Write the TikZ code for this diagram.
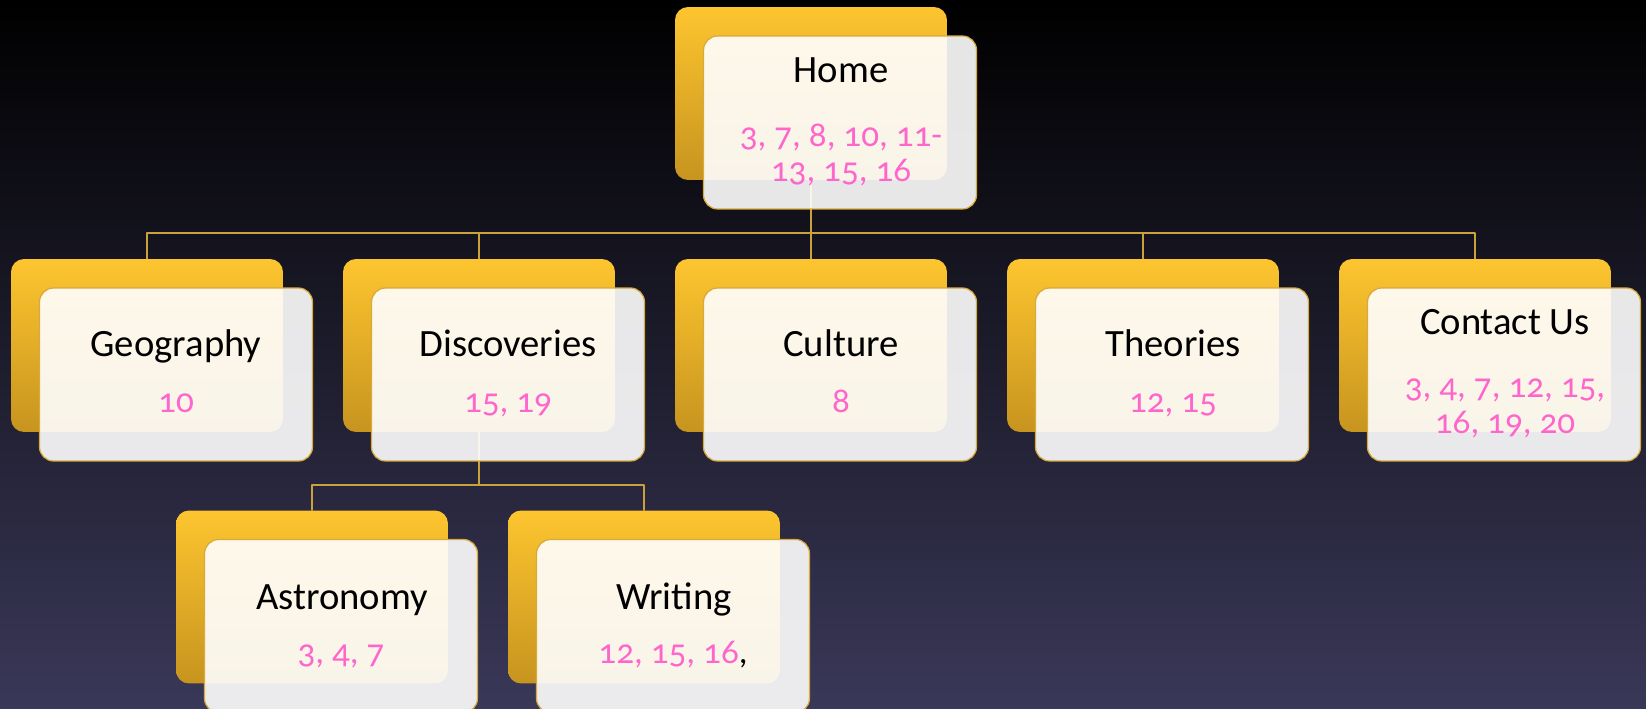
\documentclass[tikz,border=0pt]{standalone}
\usepackage{fontspec}
\setmainfont{Carlito}
\newfontfamily\numfont[Numbers=OldStyle]{Carlito}
\usetikzlibrary{positioning,calc}
\definecolor{bgtop}{HTML}{000000}
\definecolor{bgbot}{HTML}{3A3858}
\definecolor{goldtop}{HTML}{FDC52F}
\definecolor{goldbot}{HTML}{C7941F}
\definecolor{rim}{HTML}{D8A93B}
\definecolor{wire}{HTML}{C9A23C}
\definecolor{pagecol}{HTML}{FF66CC}

\begin{document}
\begin{tikzpicture}[
  x=0.02cm, y=-0.02cm, line cap=round, line join=round,
  tab/.style={rounded corners=0.26cm, top color=goldtop, bottom color=goldbot,
              minimum width=5.44cm, minimum height=3.46cm, inner sep=0pt},
  card/.style={rounded corners=0.28cm, draw=rim, line width=0.7pt, fill=white,
               fill opacity=0.9, minimum width=5.46cm, minimum height=3.46cm,
               inner sep=0pt},
  ttl/.style={anchor=base, inner sep=0pt, text=black,
              font=\fontsize{22}{26}\selectfont},
  pg/.style={anchor=base, inner sep=0pt, text=pagecol, align=center,
             font=\numfont\fontsize{20}{20}\selectfont},
  link/.style={wire, line width=0.85pt}]

% ================================================================ backdrop
\fill[top color=bgtop, bottom color=bgbot] (0,0) rectangle (1646,709);
\useasboundingbox (0,0) rectangle (1646,709);
\clip (0,0) rectangle (1646,709);

% ================================================================ yellow tabs
\node[tab] (home-b)  at (811,93.5) {};
\node[tab] (geo-b)   at (147,345.5) {};
\node[tab] (disc-b)  at (479,345.5) {};
\node[tab] (cult-b)  at (811,345.5) {};
\node[tab] (theo-b)  at (1143,345.5) {};
\node[tab] (cont-b)  at (1475,345.5) {};
\node[tab] (astro-b) at (312,597) {};
\node[tab] (writ-b)  at (644,597) {};

% ================================================================ connectors
\coordinate (bus) at (811,233);
\draw[link] (home-b.south) -- (bus);
\foreach \n in {geo,disc,cult,theo,cont}
  \draw[link] (bus) -| (\n-b.north);

\coordinate (subbus) at (479,485);
\draw[link] (disc-b.south) -- (subbus);
\foreach \n in {astro,writ}
  \draw[link] (subbus) -| (\n-b.north);

% ================================================================ cards
\foreach \n in {home,geo,disc,cult,theo,cont,astro,writ}
  \node[card] (\n) at ([shift={(29,29)}]\n-b) {};

% ================================================================ texts
% (two-line labels sit on the baseline of their last line)
\node[ttl] (home-t)  at (841,83)   {Home};
\node[pg]  (home-p)  at (841,182)  {3, 7, 8, 10, 11-\\13, 15, 16};

\node[ttl] (geo-t)   at (176,357)  {Geography};
\node[pg]  (geo-p)   at (176,413)  {10};

\node[ttl] (disc-t)  at (508,357)  {Discoveries};
\node[pg]  (disc-p)  at (508,413)  {15, 19};

\node[ttl] (cult-t)  at (841,357)  {Culture};
\node[pg]  (cult-p)  at (841,413)  {8};

\node[ttl] (theo-t)  at (1173,357) {Theories};
\node[pg]  (theo-p)  at (1173,413) {12, 15};

\node[ttl] (cont-t)  at (1505,335) {Contact Us};
\node[pg]  (cont-p)  at (1505,433) {3, 4, 7, 12, 15,\\16, 19, 20};

\node[ttl] (astro-t) at (342,609)  {Astronomy};
\node[pg]  (astro-p) at (341,663)  {3, 4, 7};

\node[ttl] (writ-t)  at (674,609)  {Writing};
\node[pg]  (writ-p)  at (673,663)  {12, 15, 16\textcolor{black}{,}};

\end{tikzpicture}
\end{document}
